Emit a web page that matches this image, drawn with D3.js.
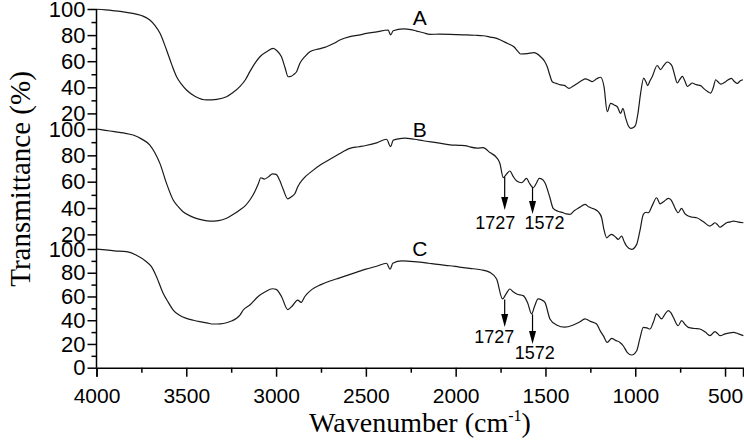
<!DOCTYPE html>
<html>
<head>
<meta charset="utf-8">
<script src="https://cdn.jsdelivr.net/npm/d3@7"></script>
<style>
  body { margin: 0; background: #fff; }
  .tick text { font-family: Arial, "Liberation Sans", sans-serif; }
</style>
</head>
<body>
<svg id="chart" width="744" height="440"></svg>
<script>
// FTIR spectra, [wavenumber, transmittance %]
var specA = [[4000,99.8],[3950,99.3],[3900,98.6],[3850,97.8],[3798,96.7],[3750,95],[3703,91.6],[3675,87.5],[3647,81.6],[3610,68.6],[3580,57],[3554,48.1],[3525,42],[3499,37.9],[3450,33],[3387,30.3],[3330,30.8],[3276,32.8],[3240,36],[3202,40.5],[3170,46],[3146,52],[3120,58],[3090,63.4],[3050,67.5],[3016,69.8],[2995,68],[2970,63.4],[2950,55],[2933,48.1],[2915,48.5],[2900,50],[2886,51.9],[2868,58.3],[2840,63.5],[2812,67.3],[2760,69.5],[2719,71.1],[2680,73.5],[2645,76.2],[2589,78.8],[2540,80],[2496,81.3],[2440,82.5],[2376,83.9],[2362,80.1],[2348,83.3],[2292,84.7],[2250,84.2],[2218,83.1],[2180,81.8],[2144,80.6],[2090,80.7],[2032,80.6],[1990,80.4],[1939,80.1],[1890,79.9],[1847,79.5],[1800,78.3],[1787,78],[1750,76.2],[1713,73.7],[1676,71.1],[1650,67],[1638,65.5],[1600,65.8],[1564,66.5],[1527,63.4],[1505,60],[1490,55.8],[1475,49],[1462,44.3],[1440,43],[1416,41.8],[1395,41.5],[1369,39.2],[1345,41],[1323,43],[1300,45],[1276,46.4],[1258,45.5],[1240,44.3],[1215,46.5],[1193,47.7],[1174,40.5],[1156,21.3],[1137,27.7],[1118,26.5],[1100,25.1],[1081,20],[1069,23.9],[1053,16.2],[1040,11],[1026,8.6],[1010,9.2],[998,11.1],[985,20],[970,35.6],[953,47.1],[940,44],[931,41.3],[918,45],[905,48.3],[878,56.7],[859,53.6],[840,57],[822,59.4],[808,58.5],[794,56],[780,49],[766,43.3],[752,46],[738,48.3],[724,45],[710,40.7],[696,42],[683,43.3],[660,42],[636,41.3],[618,39],[599,36.9],[580,35.6],[565,40],[552,45.8],[538,44],[524,42.5],[495,44.5],[465,46.9],[448,44.5],[432,43],[415,45],[400,45.8]];

var specB = [[4000,100],[3950,99],[3900,98],[3850,97],[3796,95.4],[3750,92.5],[3703,87.8],[3675,82],[3647,73.9],[3610,58.7],[3573,46.1],[3545,41],[3518,37.2],[3470,33.5],[3425,31.4],[3369,30.1],[3320,30.5],[3276,32.2],[3240,35],[3202,38.5],[3170,42],[3146,46.1],[3120,52],[3100,58],[3085,63],[3065,62],[3040,64],[3020,66],[3000,65.5],[2980,61],[2960,54],[2935,47],[2915,48.5],[2895,51],[2880,56],[2850,62],[2800,68],[2750,73],[2700,77],[2650,81],[2589,85.3],[2540,86.5],[2500,87.5],[2440,89.5],[2385,92.2],[2362,86.6],[2348,91.5],[2320,92.5],[2283,93.1],[2230,92.2],[2181,91.1],[2100,89.5],[2032,88],[1980,87.6],[1939,87.2],[1921,86.4],[1880,85.5],[1847,85.9],[1809,82.1],[1772,78.3],[1754,74],[1735,63.1],[1715,66],[1698,68.1],[1680,64],[1660,60.5],[1633,59.2],[1605,62.5],[1590,59],[1568,55.4],[1550,59],[1535,62.5],[1515,61.5],[1503,59.2],[1475,47.8],[1457,39.7],[1430,37.5],[1401,36.4],[1385,35.5],[1364,35.2],[1340,38],[1310,40.5],[1280,42.8],[1260,41],[1240,39.8],[1225,39],[1205,37],[1187,32.6],[1175,24],[1159,17.4],[1145,19],[1131,20],[1110,18],[1095,16.2],[1076,18.7],[1060,14],[1048,11.1],[1020,8.6],[992,12.4],[975,22],[955,35.2],[940,36.8],[928,36.4],[905,42],[881,47.8],[862,43.2],[840,45],[816,47.3],[800,46],[788,42.8],[775,39],[761,36.4],[742,39.7],[725,36],[705,33.9],[680,33],[658,32.6],[620,29.5],[584,26.3],[570,27.5],[556,28.8],[540,27],[528,25.4],[510,27],[491,28.8],[470,29.5],[454,30.1],[430,29.5],[398,28.8]];

var specC = [[4000,100],[3950,99.2],[3900,98.5],[3833,97.8],[3780,95],[3722,89.3],[3694,85.1],[3666,76.7],[3629,62.7],[3600,55],[3573,48.6],[3540,44.5],[3499,41.6],[3460,40],[3425,38.8],[3380,37.5],[3351,36.8],[3310,37],[3276,37.9],[3245,39.5],[3220,41.6],[3200,44.5],[3183,48.6],[3146,52.8],[3100,60],[3060,64],[3020,66.5],[3000,66],[2970,60],[2935,49],[2910,52],[2880,57],[2860,55],[2840,60],[2800,66],[2750,70],[2700,73],[2650,75.5],[2600,78],[2550,80.5],[2500,83],[2440,85.5],[2385,88],[2365,83],[2350,88],[2300,90],[2250,89.5],[2200,89],[2150,88],[2100,87],[2032,85.9],[1980,84.8],[1921,83.7],[1860,82.5],[1809,80.3],[1772,74.7],[1739,57.9],[1720,62],[1698,66.3],[1680,64],[1660,62.1],[1624,60.7],[1600,55],[1577,45.3],[1560,52],[1541,57.9],[1520,57],[1503,55.1],[1475,41.1],[1438,36],[1392,34.1],[1345,36],[1310,38.5],[1280,41.1],[1250,39],[1215,36.8],[1195,31],[1178,27],[1156,21.3],[1131,24.7],[1110,23],[1085,21.3],[1067,18.5],[1045,13],[1020,10.7],[992,14.3],[975,24],[955,34],[935,33.5],[918,32.6],[900,38],[881,45.3],[853,41.1],[835,45],[816,48.1],[800,46],[788,42.5],[761,35.4],[742,39.7],[720,36],[705,34],[670,33],[640,32.6],[610,30],[584,27],[556,30.4],[540,28.5],[528,27],[500,28.5],[454,29.8],[425,28.5],[398,27]];

var sampleNames = ["A", "B", "C"];
var xTicks = [4000, 3500, 3000, 2500, 2000, 1500, 1000, 500];
var xMinor = [3750, 3250, 2750, 2250, 1750, 1250, 750];
var yTicksTop = [20, 40, 60, 80, 100];
var yMinorTop = [30, 50, 70, 90];
var yTicksBottom = [0, 20, 40, 60, 80, 100];
var yMinorBottom = [10, 30, 50, 70, 90];
var peakWn = [1727, 1572];

var svg = d3.select("#chart");

var x = d3.scaleLinear().domain([4000, 400]).range([96.5, 743]);

// each spectrum is its own stacked layer, all 0-100 %
var panels = [
    {data: specA, top: 9,   zero: 139.5, ticks: yTicksTop,    minor: yMinorTop,
     label: 87.5, arrows: []},
    {data: specB, top: 129, zero: 260.7, ticks: yTicksTop,    minor: yMinorTop,
     label: 94, arrows: [{from: 63.5, to: 38.5, tx: 1780, ty: 24},
                         {from: 55.5, to: 35.5, tx: 1505, ty: 24}]},
    {data: specC, top: 249, zero: 367.7, ticks: yTicksBottom, minor: yMinorBottom,
     label: 94, arrows: [{from: 57.5, to: 34.3, tx: 1785, ty: 20.8},
                         {from: 45, to: 20, tx: 1560, ty: 7.5}]}
];

var line = d3.line()
    .x(function(d) { return x(d[0]); })
    .y(function(d) { return d.y; })
    .curve(d3.curveMonotoneX);

panels.forEach(function(p, i) {
    var y = d3.scaleLinear().domain([0, 100]).range([p.zero, p.top]);

    var yAxis = svg.append("g")
        .attr("transform", "translate(96.5,0)")
        .call(d3.axisLeft(y).tickValues(p.ticks).tickSize(9).tickPadding(2));
    yAxis.select(".domain").remove();
    yAxis.selectAll("text").style("font-size", "22px").attr("fill", "#000");
    yAxis.selectAll("line").attr("stroke", "#000").attr("stroke-width", 1.5);

    var yMin = svg.append("g")
        .attr("transform", "translate(96.5,0)")
        .call(d3.axisLeft(y).tickValues(p.minor).tickSize(5).tickFormat(""));
    yMin.select(".domain").remove();
    yMin.selectAll("line").attr("stroke", "#000").attr("stroke-width", 1.5);

    svg.append("path")
        .datum(p.data.map(function(d) { var o = [d[0], d[1]]; o.y = y(d[1]); return o; }))
        .attr("d", line)
        .attr("fill", "none")
        .attr("stroke", "#1a1a1a")
        .attr("stroke-width", 1.2);

    svg.append("text")
        .attr("x", x(2200))
        .attr("y", y(p.label))
        .attr("text-anchor", "middle")
        .style("font-family", "Arial, 'Liberation Sans', sans-serif")
        .style("font-size", "21px")
        .text(sampleNames[i]);

    p.arrows.forEach(function(a, k) {
        var wn = peakWn[k];
        var ax = x(wn), y0 = y(a.from), y1 = y(a.to);
        svg.append("line")
            .attr("x1", ax).attr("x2", ax)
            .attr("y1", y0).attr("y2", y1 - 12)
            .attr("stroke", "#000").attr("stroke-width", 1.2);
        svg.append("path")
            .attr("d", "M" + (ax - 3.5) + "," + (y1 - 13) + "L" + (ax + 3.5) + "," + (y1 - 13) + "L" + ax + "," + y1 + "Z")
            .attr("fill", "#000");
        svg.append("text")
            .attr("x", x(a.tx))
            .attr("y", y(a.ty))
            .attr("text-anchor", "middle")
            .style("font-family", "Arial, 'Liberation Sans', sans-serif")
            .style("font-size", "18px")
            .text(wn);
    });
});

// continuous left axis line
svg.append("line")
    .attr("x1", 96.5).attr("x2", 96.5)
    .attr("y1", 9).attr("y2", 367.7)
    .attr("stroke", "#000").attr("stroke-width", 1.5);

var xAxis = svg.append("g")
    .attr("transform", "translate(0,367.7)")
    .call(d3.axisBottom(x).tickValues(xTicks).tickFormat(d3.format("d")).tickSize(9).tickPadding(11));
xAxis.select(".domain").attr("stroke", "#000").attr("stroke-width", 1.5);
xAxis.selectAll("line").attr("stroke", "#000").attr("stroke-width", 1.5);
xAxis.selectAll("text").style("font-size", "21px").attr("fill", "#000");

var xMin = svg.append("g")
    .attr("transform", "translate(0,367.7)")
    .call(d3.axisBottom(x).tickValues(xMinor).tickSize(5).tickFormat(""));
xMin.select(".domain").remove();
xMin.selectAll("line").attr("stroke", "#000").attr("stroke-width", 1.5);

// axis titles
var xt = svg.append("text")
    .attr("x", 420)
    .attr("y", 432)
    .attr("text-anchor", "middle")
    .style("font-family", "'Times New Roman', 'Liberation Serif', serif")
    .style("font-size", "28px");
xt.append("tspan").text("Wavenumber  (cm");
xt.append("tspan").attr("dy", -11).style("font-size", "16px").text("-1");
xt.append("tspan").attr("dy", 11).text(")");

svg.append("text")
    .attr("transform", "translate(30,179) rotate(-90)")
    .attr("text-anchor", "middle")
    .style("font-family", "'Times New Roman', 'Liberation Serif', serif")
    .style("font-size", "29px")
    .text("Transmittance  (%)");
</script>
</body>
</html>
